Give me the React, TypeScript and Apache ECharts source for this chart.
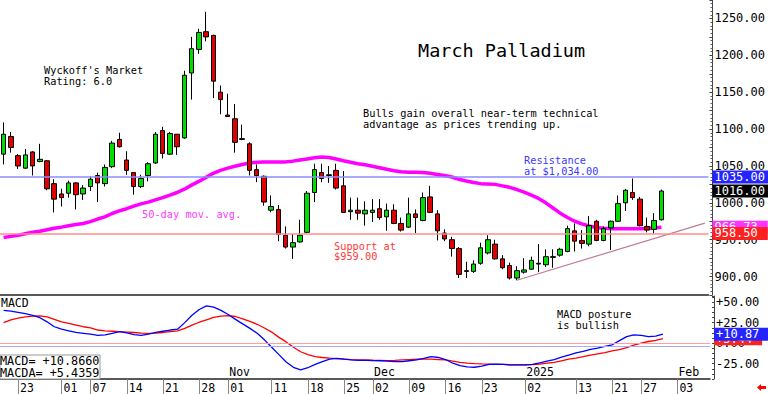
import React, { useEffect, useRef } from "react";
import * as echarts from "echarts";

const dates = [
  "2024-09-19","2024-09-20","2024-09-23","2024-09-24","2024-09-25","2024-09-26","2024-09-27","2024-09-30",
  "2024-10-01","2024-10-02","2024-10-03","2024-10-04","2024-10-07","2024-10-08","2024-10-09","2024-10-10","2024-10-11",
  "2024-10-14","2024-10-15","2024-10-16","2024-10-17","2024-10-18","2024-10-21","2024-10-22","2024-10-23","2024-10-24","2024-10-25",
  "2024-10-28","2024-10-29","2024-10-30","2024-10-31",
  "2024-11-01","2024-11-04","2024-11-05","2024-11-06","2024-11-07","2024-11-08","2024-11-11","2024-11-12","2024-11-13","2024-11-14","2024-11-15",
  "2024-11-18","2024-11-19","2024-11-20","2024-11-21","2024-11-22","2024-11-25","2024-11-26","2024-11-27","2024-11-29",
  "2024-12-02","2024-12-03","2024-12-04","2024-12-05","2024-12-06","2024-12-09","2024-12-10","2024-12-11","2024-12-12","2024-12-13",
  "2024-12-16","2024-12-17","2024-12-18","2024-12-19","2024-12-20","2024-12-23","2024-12-24","2024-12-26","2024-12-27","2024-12-30","2024-12-31",
  "2025-01-02","2025-01-03","2025-01-06","2025-01-07","2025-01-08","2025-01-09","2025-01-10","2025-01-13","2025-01-14","2025-01-15","2025-01-16","2025-01-17",
  "2025-01-21","2025-01-22","2025-01-23","2025-01-24","2025-01-27","2025-01-28","2025-01-29","2025-01-30",
  "2025-01-31","2025-02-03","2025-02-04","2025-02-05","2025-02-06","2025-02-07",
];

const opens = [1066,1090,1064,1047,1069,1056,1057,1026,1012,1013,1027,1012,1022,1037,1026,1049,1086,1058,1041,1022,1037,1054,1098,1066,1093,1088,1176,1208,1232,1227,1150,1119,1114,1087,1080,1045,1036,990,991,956,940,947,960,1014,1041,1037,1044,1023,988,990,985,987,992,981,990,972,967,985,976,1008,985,959,950,938,908,907,918,932,944,924,915,898,906,910,918,916,926,929,934,962,949,944,975,949,966,975,1000,1014,1005,968,964,977];
const closes = [1093,1075,1050,1065,1050,1059,1019,1005,1007,1027,1011,1020,1032,1027,1048,1081,1076,1044,1022,1033,1053,1093,1067,1094,1076,1173,1209,1231,1225,1165,1140,1117,1082,1086,1044,1037,1001,995,957,940,946,956,1013,1045,1033,1038,1020,987,990,986,990,990,980,990,972,963,985,980,1007,987,962,951,938,903,907,917,939,950,924,912,898,908,909,922,917,927,927,937,965,948,945,969,949,965,975,999,1017,1007,969,963,976,1016];
const lows = [1052,1068,1046,1046,1037,1055,1017,987,995,1007,991,1004,1016,1001,1022,1047,1075,1038,1011,1020,1029,1053,1060,1065,1065,1087,1140,1202,1219,1142,1120,1117,1068,1085,1037,1028,996,987,948,938,924,946,959,1001,1028,1027,1018,986,977,977,969,974,977,962,971,961,966,959,975,986,949,948,927,898,898,905,916,930,923,910,896,895,904,909,906,913,912,927,933,934,938,941,948,948,936,974,989,1004,968,960,958,976];
const highs = [1109,1096,1066,1073,1070,1080,1058,1032,1019,1030,1028,1024,1036,1041,1052,1084,1095,1070,1041,1038,1055,1096,1103,1096,1093,1179,1225,1236,1259,1228,1159,1148,1134,1106,1082,1052,1037,1010,997,968,958,977,1016,1053,1053,1050,1053,1043,1007,1007,1002,1005,1005,999,998,980,1007,991,1014,1023,990,964,954,940,920,922,946,956,950,929,919,914,925,927,944,937,937,939,969,972,963,982,977,968,976,1010,1019,1033,1008,980,986,1018];

const ma50 = [953,954.5,956,958,960,961.5,963.5,965.5,967,969,970.5,972,974.5,978,981,985.5,989,992,995.5,998.5,1001,1004,1007,1010.5,1014,1018.5,1024,1029,1034.5,1040,1044,1047,1049.5,1052,1054,1055,1055.5,1055.5,1055.5,1055.5,1056.5,1058,1059.5,1061,1062,1061.5,1059.5,1057,1055,1053,1051.5,1049.5,1047.5,1045.5,1043.5,1042,1041.5,1041.5,1041,1040,1038.5,1037,1035,1032,1029.5,1027.5,1026,1025.5,1025,1023,1021,1018,1014.5,1010.5,1006,1000,993,986,980,975,971.5,968.5,966.5,965.5,965,965,965,964.8,964.8,965.3,966,966.73];

const macd = [40,39,37.5,36,34,31,26,20,17,15,13,12,11,9.5,10,12,14,12.5,10.5,9.5,11,13,14.5,16,17,25,34,41,45.5,44,40,35,29,23.5,18,12,4,-5,-14,-23,-29.5,-32.5,-30,-26,-22.5,-19.5,-18.5,-19.5,-20.5,-21,-21,-21.3,-21.5,-22,-22.5,-22.5,-21.5,-20.5,-18.5,-16.5,-17.5,-20,-24.5,-27.5,-29,-29.4,-28,-25.8,-25.5,-26,-26.6,-26.6,-26.6,-26,-24,-22,-20,-17,-14.5,-12,-10,-7.5,-6,-4,-2,3,8,10,9.5,8,8.5,10.87];
const macda = [25,28.5,30.5,32,33,33.2,32,29,26,24,22,20,18.5,16,15,14.5,14,13.5,13,12.3,12,12.3,13,14,15,18,22,25.5,28.5,31.5,33,33.5,32.5,29.5,26.5,23,18.5,13.5,7,1.5,-5,-10.5,-14,-16.5,-17.5,-18.3,-18.8,-19.5,-20,-20.3,-20.5,-20.8,-21,-21.3,-21,-20.5,-20,-19.6,-19.5,-19.5,-20,-20.5,-22,-23.5,-24.3,-25,-25.4,-25.6,-25.8,-26,-26.4,-26.6,-26.6,-26.2,-25.5,-24.5,-23.5,-21.5,-19.5,-18.4,-16.5,-14.5,-13,-11.5,-9.5,-8,-5.5,-2.5,0,2,3.5,5.44];

const dayTickDates = ["2024-09-23","2024-10-01","2024-10-07","2024-10-14","2024-10-21","2024-10-28","2024-11-01","2024-11-11","2024-11-18","2024-11-25","2024-12-02","2024-12-09","2024-12-16","2024-12-23","2025-01-02","2025-01-13","2025-01-21","2025-01-27","2025-02-03"];
const monthTickDates = ["2024-11-01","2024-12-02","2025-01-02","2025-02-03"];
const monthTickLabels = ["Nov","Dec","2025","Feb"];

const resistance = 1035;
const support = 958.5;
const lastClose = 1016;
const lastMa = 966.73;
const trendStart = { date: "2024-12-31", price: 895 };
const trendEnd = { date: "2025-02-07", price: 972.5 };
const macdLast = 10.87;
const macdaLast = 5.44;

const MONO = '"DejaVu Sans Mono", "Liberation Mono", monospace';
const CLEAR = "rgba(0,0,0,0)";

export default function App() {
  const ref = useRef<HTMLDivElement>(null);
  useEffect(() => {
    if (!ref.current) return;
    const chart = echarts.init(ref.current, undefined, { renderer: "svg" });
    const candles = opens.map((o, i) => [o, closes[i], lows[i], highs[i]]);
    const daySet = new Set(dayTickDates);
    const monthMap: Record<string, string> = {};
    monthTickDates.forEach((d, i) => (monthMap[d] = monthTickLabels[i]));

    const tag = (text: string, bg: string) => ({
      show: true,
      position: "end",
      distance: 4,
      formatter: text,
      color: "#fff",
      backgroundColor: bg,
      padding: [1, 10, 0, 2],
      fontSize: 12,
      lineHeight: 12,
      fontFamily: MONO,
      opacity: 1,
    });
    const hidden = { color: CLEAR, width: 0, type: "solid" };
    const noLabel = { show: false };

    const txt = (x: number, y: number, text: string, size: number, fill = "#000") => ({
      type: "text",
      x,
      y,
      z: 50,
      style: { text, fill, fontSize: size, fontFamily: MONO, verticalAlign: "middle", align: "left" },
    });

    const option: any = {
      animation: false,
      grid: [
        { left: 0, top: 0, width: 710, height: 295 },
        { left: 0, top: 296, width: 710, height: 83 },
      ],
      xAxis: [
        {
          type: "category", gridIndex: 0, data: dates,
          axisLine: { show: true, onZero: false, lineStyle: { color: "#222", width: 1.5 } },
          axisTick: { show: false }, axisLabel: { show: false }, splitLine: { show: false },
        },
        {
          type: "category", gridIndex: 1, data: dates,
          axisLine: { show: true, onZero: false, lineStyle: { color: "#222", width: 1.5 } },
          axisTick: {
            show: true, alignWithLabel: true, length: 15,
            interval: (_i: number, v: string) => daySet.has(v),
            lineStyle: { color: "#888" },
          },
          axisLabel: {
            interval: (_i: number, v: string) => daySet.has(v),
            formatter: (v: string) => v.slice(8),
            align: "left", margin: 3, padding: [0, 0, 0, 2],
            fontFamily: MONO, fontSize: 11.5, color: "#000",
          },
          splitLine: { show: false },
        },
        {
          type: "category", gridIndex: 1, data: dates, position: "bottom",
          axisLine: { show: false, onZero: false }, axisTick: { show: false }, splitLine: { show: false },
          axisLabel: {
            inside: true,
            interval: (_i: number, v: string) => v in monthMap,
            formatter: (v: string) => monthMap[v] || "",
            align: "left", margin: 1, padding: [0, 0, 0, 1],
            fontFamily: MONO, fontSize: 11.5, color: "#000",
          },
        },
      ],
      yAxis: [
        {
          type: "value", gridIndex: 0, position: "right", offset: 4,
          min: 875, max: 1275, interval: 25,
          splitLine: { show: false },
          axisLine: { show: true, lineStyle: { color: "#444" } },
          axisTick: { show: true, inside: true, length: 3, lineStyle: { color: "#444" } },
          minorTick: { show: true, splitNumber: 5, length: 2, lineStyle: { color: "#666" } },
          axisLabel: {
            margin: 2, color: "#000", fontFamily: MONO, fontSize: 12,
            formatter: (v: number) => (v % 50 === 0 ? v.toFixed(2) : ""),
          },
        },
        {
          type: "value", gridIndex: 1, position: "right", offset: 4,
          min: -43.75, max: 57.5, interval: 6.25,
          splitLine: { show: false },
          axisLine: { show: true, lineStyle: { color: "#444" } },
          axisTick: { show: true, inside: true, length: 2, lineStyle: { color: "#444" } },
          axisLabel: {
            margin: 2, color: "#000", fontFamily: MONO, fontSize: 12,
            formatter: (v: number) => {
              if (Math.abs(v / 25 - Math.round(v / 25)) > 1e-6) return "";
              if (v > 0) return "+" + v.toFixed(2);
              return v.toFixed(2);
            },
          },
        },
      ],
      series: [
        {
          type: "line", xAxisIndex: 0, yAxisIndex: 0, data: ma50, z: 1,
          showSymbol: false, smooth: false,
          lineStyle: { color: "#ff00ff", width: 3.5 },
          markLine: {
            symbol: "none", silent: true, animation: false,
            label: { show: false },
            data: [
              [
                { coord: [trendStart.date, trendStart.price], lineStyle: { color: "#c27b93", width: 1.2, type: "solid" }, label: noLabel },
                { coord: [trendEnd.date, trendEnd.price] },
              ],
              { yAxis: resistance, lineStyle: { color: "#8c8cff", width: 1.6, type: "solid", opacity: 1 }, label: tag(resistance.toFixed(2), "#2424ff") },
              { yAxis: lastClose, lineStyle: hidden, label: tag(lastClose.toFixed(2), "#000000") },
              { yAxis: lastMa, lineStyle: hidden, label: tag(lastMa.toFixed(2), "#ff33ff") },
              { yAxis: support, lineStyle: { color: "#ff8c8c", width: 1.6, type: "solid", opacity: 1 }, label: tag(support.toFixed(2), "#ff2020") },
            ],
          },
        },
        {
          type: "candlestick", xAxisIndex: 0, yAxisIndex: 0, data: candles, z: 3,
          barWidth: 5,
          itemStyle: {
            color: "#00dd00", color0: "#e00000",
            borderColor: "#000", borderColor0: "#000", borderWidth: 1,
          },
        },
        {
          type: "line", xAxisIndex: 1, yAxisIndex: 1, data: macda, z: 2,
          showSymbol: false, lineStyle: { color: "#ff0000", width: 1.3 },
          markLine: {
            symbol: "none", silent: true, animation: false,
            data: [
              { yAxis: 0, lineStyle: { color: "#ffa0a0", width: 1, type: "solid" }, label: noLabel },
              { yAxis: -3.7, lineStyle: { color: "#a8a8ff", width: 1, type: "solid" }, label: noLabel },
              { yAxis: macdaLast, lineStyle: hidden, label: tag("+" + macdaLast.toFixed(2), "#ff2020") },
            ],
          },
        },
        {
          type: "line", xAxisIndex: 1, yAxisIndex: 1, data: macd, z: 3,
          showSymbol: false, lineStyle: { color: "#0000ff", width: 1.3 },
          markLine: {
            symbol: "none", silent: true, animation: false,
            data: [
              { yAxis: macdLast, lineStyle: hidden, label: tag("+" + macdLast.toFixed(2), "#2424ff") },
            ],
          },
        },
      ],
      graphic: [
        txt(418, 50, "March Palladium", 18.5),
        txt(44, 70, "Wyckoff's Market", 10.3),
        txt(44, 80.5, "Rating: 6.0", 10.3),
        txt(363, 113, "Bulls gain overall near-term technical", 10.3),
        txt(363, 124, "advantage as prices trending up.", 10.3),
        txt(524, 159.5, "Resistance", 10.3, "#3a3aff"),
        txt(524, 170.5, "at $1,034.00", 10.3, "#3a3aff"),
        txt(334, 245.5, "Support at", 10.3, "#ff3a3a"),
        txt(334, 256, "$959.00", 10.3, "#ff3a3a"),
        txt(142, 214, "50-day mov. avg.", 10.3, "#ff3cff"),
        txt(557, 314, "MACD posture", 10.3),
        txt(557, 324.5, "is bullish", 10.3),
        txt(1, 303, "MACD", 11.5),
        {
          type: "rect", z: 40,
          shape: { x: 0, y: 355, width: 100, height: 24 },
          style: { fill: "#fff", stroke: "#999", lineWidth: 1 },
        },
        txt(0, 361, "MACD= +10.8660", 11.8),
        txt(0, 372.5, "MACDA= +5.4359", 11.8),
        {
          type: "polygon", z: 50,
          shape: { points: [[757, 387.5], [761, 384], [761, 386], [766, 386], [766, 389], [761, 389], [761, 391]] },
          style: { fill: "#ff0000" },
        },
      ],
    };
    chart.setOption(option);
    return () => chart.dispose();
  }, []);
  return <div ref={ref} style={{ position: "fixed", left: 0, top: 0, width: 768, height: 394, background: "#fff" }} />;
}
